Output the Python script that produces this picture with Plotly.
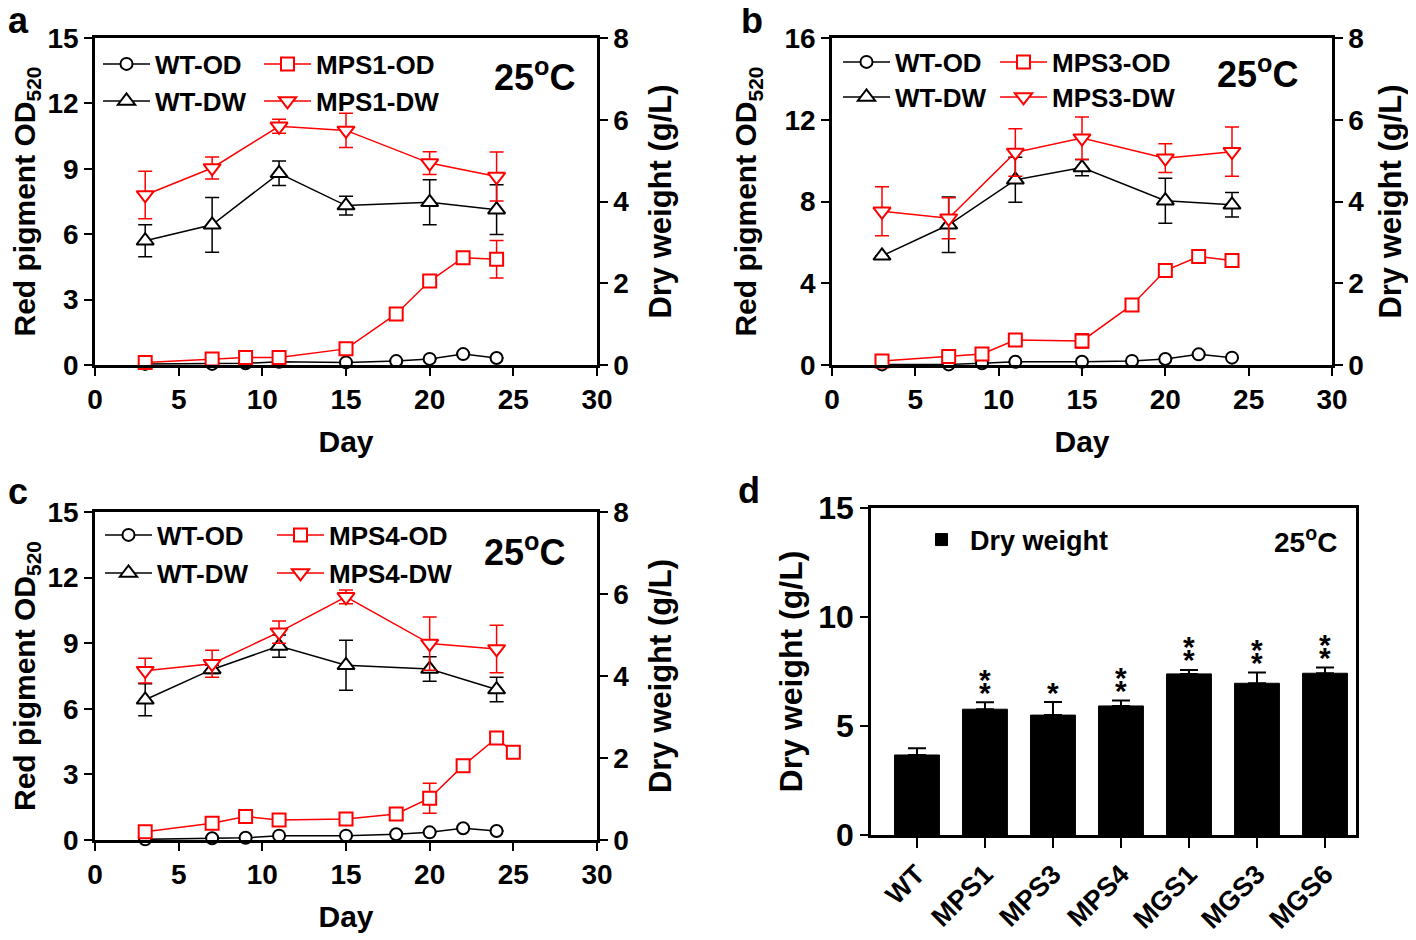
import plotly.graph_objects as go

# ---------------- data ----------------
days_od = [3, 7, 9, 11, 15, 18, 20, 22, 24]
days_od_c = [3, 7, 9, 11, 15, 18, 20, 22, 24, 25]
days_dw = [3, 7, 11, 15, 20, 24]

# panel a
a_wt_od = [0.05, 0.05, 0.08, 0.15, 0.12, 0.18, 0.28, 0.50, 0.32]
a_wt_od_err = [0, 0, 0, 0, 0, 0, 0, 0, 0]
a_mps1_od = [0.12, 0.28, 0.34, 0.34, 0.74, 2.34, 3.85, 4.92, 4.85]
a_mps1_od_err = [0, 0, 0, 0, 0, 0, 0, 0, 0.86]
a_wt_dw = [3.04, 3.43, 4.69, 3.90, 3.98, 3.80]
a_wt_dw_err = [0.39, 0.67, 0.30, 0.23, 0.55, 0.61]
a_mps1_dw = [4.16, 4.82, 5.84, 5.74, 4.94, 4.61]
a_mps1_dw_err = [0.58, 0.27, 0.17, 0.42, 0.28, 0.60]

# panel b
b_wt_od = [0.03, 0.03, 0.08, 0.16, 0.16, 0.20, 0.29, 0.52, 0.36]
b_wt_od_err = [0, 0, 0, 0, 0, 0, 0, 0, 0]
b_mps3_od = [0.20, 0.41, 0.54, 1.22, 1.18, 2.94, 4.62, 5.31, 5.11]
b_mps3_od_err = [0, 0, 0, 0, 0.35, 0, 0, 0, 0]
b_wt_dw = [2.67, 3.43, 4.53, 4.83, 4.02, 3.92]
b_wt_dw_err = [0, 0.68, 0.55, 0.20, 0.55, 0.30]
b_mps3_dw = [3.76, 3.59, 5.20, 5.55, 5.06, 5.22]
b_mps3_dw_err = [0.60, 0.50, 0.58, 0.52, 0.35, 0.60]

# panel c
c_wt_od = [0.03, 0.08, 0.10, 0.20, 0.20, 0.26, 0.35, 0.54, 0.41]
c_wt_od_err = [0, 0, 0, 0, 0, 0, 0, 0, 0]
c_mps4_od = [0.38, 0.77, 1.07, 0.92, 0.96, 1.19, 1.91, 3.40, 4.67, 4.01]
c_mps4_od_err = [0, 0, 0, 0, 0, 0, 0.69, 0, 0, 0]
c_wt_dw = [3.42, 4.16, 4.73, 4.26, 4.17, 3.67]
c_wt_dw_err = [0.39, 0.10, 0.27, 0.61, 0.30, 0.30]
c_mps4_dw = [4.13, 4.30, 5.07, 5.93, 4.79, 4.66]
c_mps4_dw_err = [0.30, 0.33, 0.27, 0.17, 0.65, 0.58]

# panel d
strains = ["WT", "MPS1", "MPS3", "MPS4", "MGS1", "MGS3", "MGS6"]
d_dry_weight = [3.67, 5.77, 5.50, 5.92, 7.39, 6.96, 7.42]
d_dry_weight_err = [0.31, 0.32, 0.60, 0.25, 0.18, 0.49, 0.26]
d_stars = [0, 2, 1, 2, 2, 2, 2]

x_ticks = [0, 5, 10, 15, 20, 25, 30]

# ---------------- helpers ----------------
# The page body has an 8px margin, so the figure is 8px smaller and all
# positions below are given in reference-image pixels, shifted by 8px.
OFF = 8
W, H = 1416 - OFF, 940 - OFF
FONT = "Liberation Sans, Arial, Helvetica, sans-serif"
RED = "#ff0000"
BLACK = "#000000"


def fx(px):
    return (px - OFF) / W


def fy(py):
    return 1 - (py - OFF) / H


def bold(size, family=FONT):
    return dict(family=family, size=size, color="black", weight="bold")


legend_pos = {}


def series(x, y, err, name, color, symbol, size, xa, ya, leg, lx, ly):
    legend_pos[leg] = (lx, ly)
    return go.Scatter(
        x=x, y=y, name=name, mode="lines+markers",
        line=dict(color=color, width=1.5),
        marker=dict(symbol=symbol, size=size, color="white",
                    line=dict(color=color, width=2)),
        error_y=dict(type="data", array=err, color=color, thickness=1.5, width=7),
        xaxis=xa, yaxis=ya, legend=leg, cliponaxis=False,
    )


fig = go.Figure()

panels = [
    ("x", "y", "y2", days_od, a_wt_od, a_wt_od_err, a_mps1_od, a_mps1_od_err,
     a_wt_dw, a_wt_dw_err, a_mps1_dw, a_mps1_dw_err, "MPS1",
     [(98, 64), (259, 64), (98, 101), (259, 101)]),
    ("x2", "y3", "y4", days_od, b_wt_od, b_wt_od_err, b_mps3_od, b_mps3_od_err,
     b_wt_dw, b_wt_dw_err, b_mps3_dw, b_mps3_dw_err, "MPS3",
     [(838, 62), (995, 62), (838, 97), (995, 97)]),
    ("x3", "y5", "y6", days_od_c, c_wt_od, c_wt_od_err, c_mps4_od, c_mps4_od_err,
     c_wt_dw, c_wt_dw_err, c_mps4_dw, c_mps4_dw_err, "MPS4",
     [(100, 535), (272, 535), (100, 573), (272, 573)]),
]

n_leg = 0


def next_legend():
    global n_leg
    n_leg += 1
    return "legend" if n_leg == 1 else "legend%d" % n_leg


for (xa, yl, yr, m_days, wt_od, wt_od_e, m_od, m_od_e, wt_dw, wt_dw_e, m_dw, m_dw_e,
     nm, lpos) in panels:
    fig.add_trace(series(days_od, wt_od, wt_od_e, "WT-OD", BLACK, "circle", 12,
                         xa, yl, next_legend(), *lpos[0]))
    fig.add_trace(series(m_days, m_od, m_od_e, nm + "-OD", RED, "square", 13,
                         xa, yl, next_legend(), *lpos[1]))
    fig.add_trace(series(days_dw, wt_dw, wt_dw_e, "WT-DW", BLACK, "triangle-up", 15,
                         xa, yr, next_legend(), *lpos[2]))
    fig.add_trace(series(days_dw, m_dw, m_dw_e, nm + "-DW", RED, "triangle-down", 15,
                         xa, yr, next_legend(), *lpos[3]))

bar_leg = next_legend()
fig.add_trace(go.Bar(
    x=strains, y=d_dry_weight, name="Dry weight", width=0.66,
    marker=dict(color="black", line=dict(color="black", width=1)),
    error_y=dict(type="data", symmetric=False, array=d_dry_weight_err,
                 arrayminus=[0] * len(strains), color="black", thickness=2, width=9),
    xaxis="x4", yaxis="y7", legend=bar_leg,
))

# ---------------- axes ----------------
common = dict(showline=True, linewidth=2.5, linecolor="black", showgrid=False,
              zeroline=False, ticks="outside", ticklen=8, tickwidth=2, tickcolor="black",
              automargin=False)


def day_axis(x0, x1, anchor):
    return dict(common, domain=[fx(x0), fx(x1)], anchor=anchor, range=[0, 30],
                tickvals=x_ticks, mirror=True, tickfont=bold(28),
                title=dict(text="Day", font=bold(30), standoff=17))


def left_axis(y0, y1, anchor, rng, dt):
    return dict(common, domain=[fy(y1), fy(y0)], anchor=anchor, range=rng, dtick=dt,
                tickfont=bold(28),
                title=dict(text="Red pigment OD<sub>520</sub>", font=bold(30), standoff=19))


def right_axis(anchor, over, standoff=21):
    return dict(common, anchor=anchor, overlaying=over, side="right", range=[0, 8],
                dtick=2, tickfont=bold(28),
                title=dict(text="Dry weight (g/L)", font=bold(31), standoff=standoff))


top_y0, top_y1 = 38, 365
bot_y0, bot_y1 = 512, 840

layout = dict(
    width=W, height=H, margin=dict(l=0, r=0, t=0, b=0, autoexpand=False),
    plot_bgcolor="white", paper_bgcolor="white",
    font=dict(family=FONT, color="black"),
    showlegend=True, barmode="overlay",
    xaxis=day_axis(95, 597, "y"),
    yaxis=left_axis(top_y0, top_y1, "x", [0, 15], 3),
    yaxis2=right_axis("x", "y"),
    xaxis2=day_axis(832, 1332, "y3"),
    yaxis3=left_axis(top_y0, top_y1, "x2", [0, 16], 4),
    yaxis4=right_axis("x2", "y3", 16),
    xaxis3=day_axis(95, 597, "y5"),
    yaxis5=left_axis(bot_y0, bot_y1, "x3", [0, 15], 3),
    yaxis6=right_axis("x3", "y5"),
    xaxis4=dict(common, domain=[fx(871), fx(1356)], anchor="y7", range=[-0.676, 6.456],
                mirror=True, tickangle=-45, ticklen=10, tickfont=bold(27)),
    yaxis7=dict(common, domain=[fy(835), fy(508)], anchor="x4", range=[0, 15], dtick=5,
                mirror=True, tickfont=bold(32),
                title=dict(text="Dry weight (g/L)", font=bold(32), standoff=7)),
)


def legend_cfg(x_px, y_px, size=26):
    return dict(x=fx(x_px), y=fy(y_px), xanchor="left", yanchor="middle",
                orientation="h", bgcolor="rgba(0,0,0,0)", font=bold(size), itemwidth=47,
                traceorder="normal", tracegroupgap=0)


for leg, (lx, ly) in legend_pos.items():
    layout[leg] = legend_cfg(lx, ly)
layout[bar_leg] = legend_cfg(913, 540, 27)

fig.update_layout(**layout)

# ---------------- annotations ----------------
ann = []
for letter, x_px, y_px in [("a", 18, 20), ("b", 752, 20), ("c", 18, 491), ("d", 749, 490)]:
    ann.append(dict(text=letter, x=fx(x_px), y=fy(y_px), xref="paper", yref="paper",
                    showarrow=False, font=bold(36), xanchor="center", yanchor="middle"))
for x_px, y_px, size in [(534, 75, 36), (1257, 72, 36), (524, 550, 36), (1305, 540, 28)]:
    ann.append(dict(text="25<sup>o</sup>C", x=fx(x_px), y=fy(y_px), xref="paper",
                    yref="paper", showarrow=False, font=bold(size),
                    xanchor="center", yanchor="middle"))
for cat, v, e, n in zip(strains, d_dry_weight, d_dry_weight_err, d_stars):
    for k in range(n):
        ann.append(dict(text="*", x=cat, y=v + e, xref="x4", yref="y7", showarrow=False,
                        font=bold(30), xanchor="center", yanchor="middle",
                        yshift=10 + 13 * k))
fig.update_layout(annotations=ann)

fig.write_html("out.html")
